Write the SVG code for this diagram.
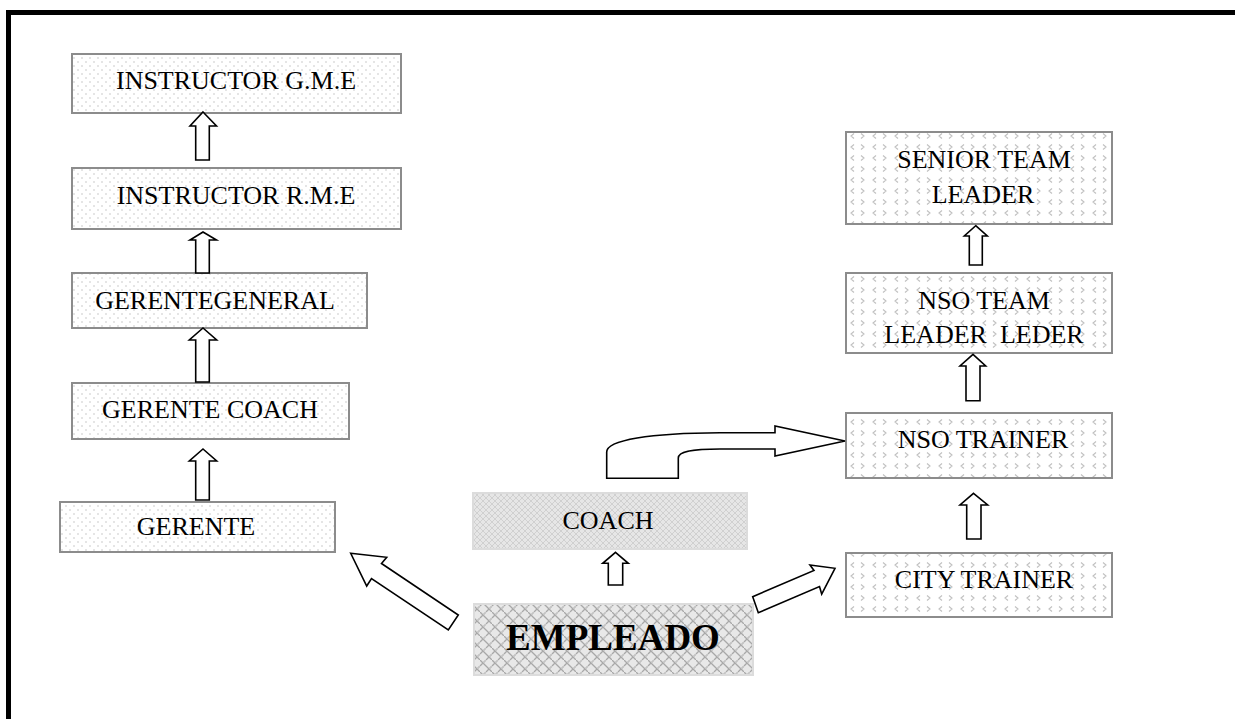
<svg xmlns="http://www.w3.org/2000/svg" width="1235" height="719" viewBox="0 0 1235 719">
<defs>
<pattern id="dots" width="8" height="8" patternUnits="userSpaceOnUse">
<rect width="8" height="8" fill="#fff"/>
<circle cx="2" cy="2" r="0.8" fill="#c4c4c4"/>
<circle cx="6" cy="6" r="0.8" fill="#c4c4c4"/>
</pattern>
<pattern id="chev" width="22" height="22" patternUnits="userSpaceOnUse">
<rect width="22" height="22" fill="#fff"/>
<path d="M3,1.5 l3,2.5 l-3,2.5 M18,1.5 l-3,2.5 l3,2.5 M18,12.5 l-3,2.5 l3,2.5 M3,12.5 l3,2.5 l-3,2.5" fill="none" stroke="#c0c0c0" stroke-width="1.1"/>
</pattern>
<pattern id="cross" width="6" height="6" patternUnits="userSpaceOnUse">
<rect width="6" height="6" fill="#e6e6e6"/>
<path d="M0,0 L6,6 M6,0 L0,6" stroke="#d0d0d0" stroke-width="1"/>
</pattern>
<pattern id="weave" width="12" height="12" patternUnits="userSpaceOnUse">
<rect width="12" height="12" fill="#e8e8e8"/>
<path d="M0,6 L6,0 M6,12 L12,6 M0,0 L6,6 M6,6 L12,12" stroke="#a8a8a8" stroke-width="1.3" fill="none"/>
<path d="M3,3 L9,-3 M9,9 L15,3 M-3,9 L3,15" stroke="#c4c4c4" stroke-width="1" fill="none"/>
</pattern>
</defs>
<style>
.b1{fill:url(#dots);stroke:#8c8c8c;stroke-width:2}
.b2{fill:url(#chev);stroke:#8c8c8c;stroke-width:2}
.b3{fill:url(#cross);stroke:#dcdcdc;stroke-width:2}
.b4{fill:url(#weave);stroke:#dcdcdc;stroke-width:2}
.t{font-family:"Liberation Serif","Times New Roman",serif;font-size:26px;fill:#000;text-anchor:middle;white-space:pre}
.tb{font-family:"Liberation Serif","Times New Roman",serif;font-size:37px;font-weight:bold;fill:#000;text-anchor:middle}
.ar{fill:#fff;stroke:#000;stroke-width:1.6;stroke-linejoin:miter}
</style>
<rect width="1235" height="719" fill="#fff"/>
<path d="M8.5,719 V12.5 H1235" fill="none" stroke="#000" stroke-width="5"/>

<g id="instructor-gme"><rect class="b1" x="72" y="54" width="329" height="59"/><text class="t" x="236" y="89">INSTRUCTOR G.M.E</text></g>
<g id="instructor-rme"><rect class="b1" x="72" y="168" width="329" height="61"/><text class="t" x="236" y="204">INSTRUCTOR R.M.E</text></g>
<g id="gerente-general"><rect class="b1" x="72" y="273" width="295" height="55"/><text class="t" x="215" y="309">GERENTEGENERAL</text></g>
<g id="gerente-coach"><rect class="b1" x="72" y="383" width="277" height="56"/><text class="t" x="210" y="418">GERENTE COACH</text></g>
<g id="gerente"><rect class="b1" x="60" y="502" width="275" height="50"/><text class="t" x="196" y="535">GERENTE</text></g>
<g id="coach"><rect class="b3" x="473" y="493" width="274" height="56"/><text class="t" x="608" y="529">COACH</text></g>
<g id="empleado"><rect class="b4" x="474" y="604" width="279" height="71"/><text class="tb" x="613" y="650">EMPLEADO</text></g>
<g id="senior-team-leader"><rect class="b2" x="846" y="132" width="266" height="92"/><text class="t" x="984" y="168">SENIOR TEAM</text><text class="t" x="983" y="203">LEADER</text></g>
<g id="nso-team-leader"><rect class="b2" x="846" y="273" width="266" height="80"/><text class="t" x="984" y="309">NSO TEAM</text><text class="t" x="984" y="343">LEADER  LEDER</text></g>
<g id="nso-trainer"><rect class="b2" x="846" y="413" width="266" height="65"/><text class="t" x="983" y="448">NSO TRAINER</text></g>
<g id="city-trainer"><rect class="b2" x="846" y="553" width="266" height="64"/><text class="t" x="984" y="588">CITY TRAINER</text></g>

<g id="connectors">
<polygon class="ar" points="203,112 216.5,126 209.3,126 209.3,160 195.7,160 195.7,126 190,126"/>
<polygon class="ar" points="203,232 216.5,240 209.3,240 209.3,273 195.7,273 195.7,240 190,240"/>
<polygon class="ar" points="203,328 216.7,340 209.3,340 209.3,382 195.7,382 195.7,340 189.3,340"/>
<polygon class="ar" points="203,449 216.7,461 209.3,461 209.3,500 195.7,500 195.7,461 189.3,461"/>
<polygon class="ar" points="975.7,225.7 987.3,236 982.3,236 982.3,265 969.3,265 969.3,236 964.3,236"/>
<polygon class="ar" points="973,354.3 985.7,366 980,366 980,400.7 966,400.7 966,366 960,366"/>
<polygon class="ar" points="973.5,493.3 987.7,505 981,505 981,539 966.7,539 966.7,505 960,505"/>
<polygon class="ar" points="615.5,552.3 628.3,563.3 622.7,563.3 622.7,585 608.3,585 608.3,563.3 602.7,563.3"/>
<polygon class="ar" points="350.7,553.3 386.7,557.3 381.5,563.5 458.3,615 448.3,630 371.5,578.5 366.7,586"/>
<polygon class="ar" points="835,568.3 821.7,594 819.5,586.5 758.3,612.7 752.7,596.7 814,570.5 810,565"/>
<path class="ar" d="M606.7,478.3 L606.7,452 C606.7,440 650,433 720,432.7 L775,432.7 L775,426 L845,441 L775,456 L775,449 L720,449 C690,449 678.3,452 678.3,458 L678.3,478.3 Z"/>
</g>
</svg>
